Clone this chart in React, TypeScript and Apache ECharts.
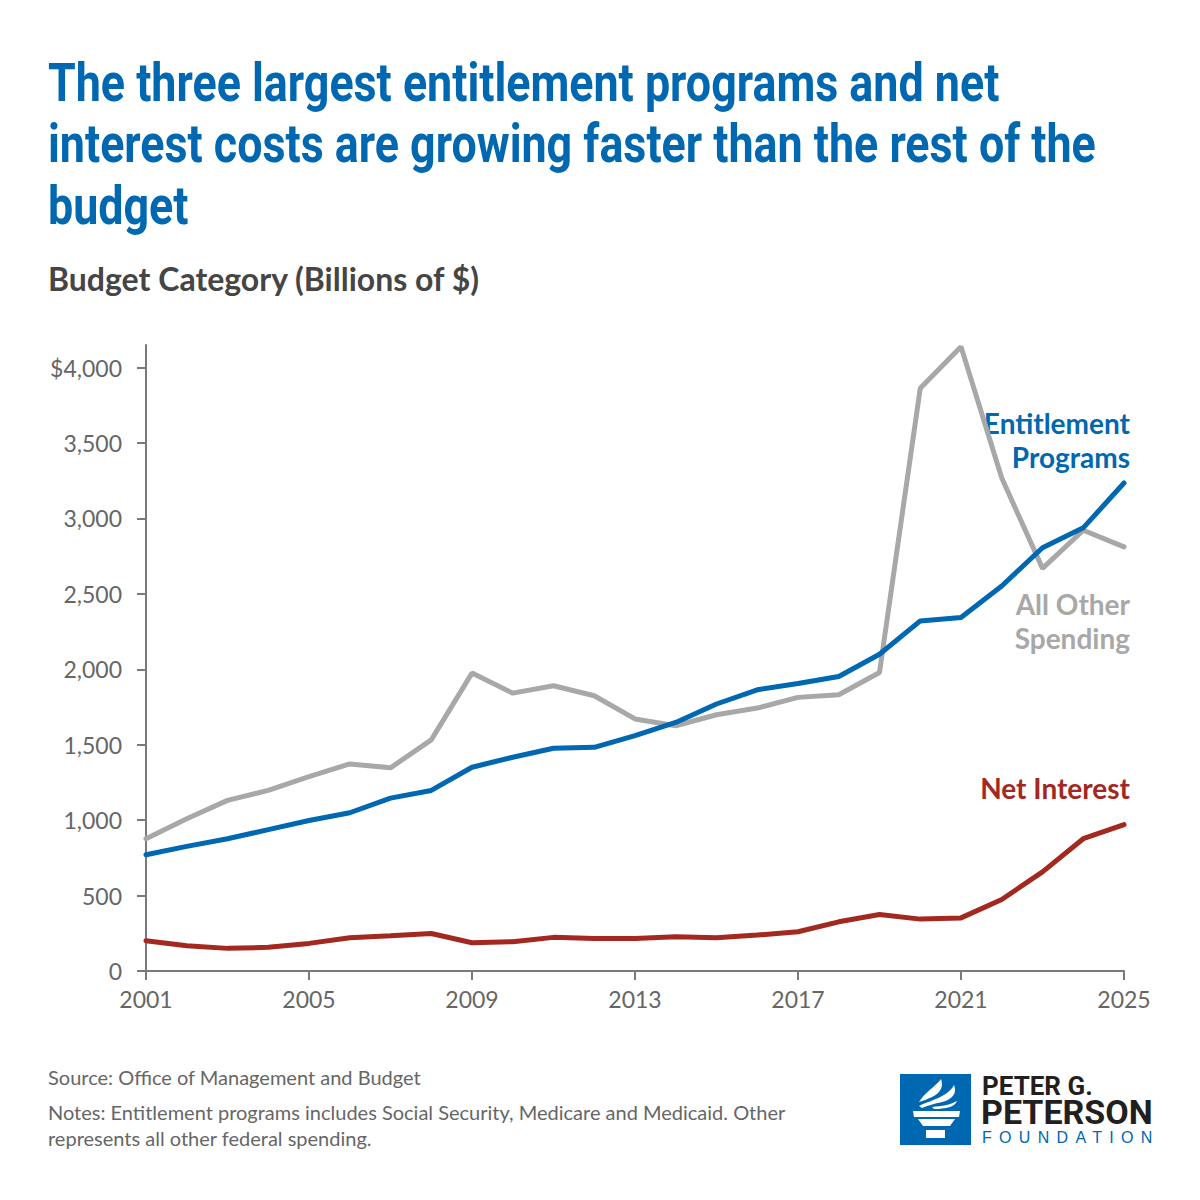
import { useEffect, useRef } from 'react'
import * as echarts from 'echarts'

const years = [
  '2001', '2002', '2003', '2004', '2005', '2006', '2007', '2008', '2009',
  '2010', '2011', '2012', '2013', '2014', '2015', '2016', '2017', '2018',
  '2019', '2020', '2021', '2022', '2023', '2024', '2025'
]

// billions of dollars
const entitlementPrograms = [
  771, 826, 877, 937, 998, 1049, 1146, 1197, 1351, 1417, 1477, 1483, 1560,
  1648, 1770, 1864, 1906, 1952, 2100, 2321, 2343, 2552, 2806, 2938, 3235
]
const allOtherSpending = [
  877, 1009, 1131, 1197, 1289, 1373, 1347, 1532, 1975, 1842, 1891, 1825, 1671,
  1626, 1699, 1743, 1814, 1831, 1979, 3863, 4139, 3268, 2669, 2922, 2812
]
const netInterest = [
  201, 168, 150, 157, 183, 220, 234, 249, 187, 194, 223, 216, 216, 227, 220,
  238, 260, 326, 375, 344, 352, 474, 657, 877, 970
]

const yTicks = [0, 500, 1000, 1500, 2000, 2500, 3000, 3500, 4000]

const titleLines = [
  'The three largest entitlement programs and net',
  'interest costs are growing faster than the rest of the',
  'budget'
]

const BLUE = '#0067b1'
const GRAY = '#a8a8a8'
const RED = '#a3281f'
const AXIS = '#7a7a7a'
const NOTE = '#666666'

// torch of the foundation's logo, in the 71px square's own coordinates
const torchPath =
  'M19 28 C25 18 35 13 41 5 C44 13 40 19 32 23 C27 25 23 27 19 28 Z ' +
  'M31 27 C41 23 50 19 54 11 C58 21 50 27 38 29 Z ' +
  'M19 32 C28 27 40 25 50 23 C44 28 32 30 22 34 Z ' +
  'M32 33 C42 32 50 31 57 27 C55 33 46 35 34 35 Z ' +
  'M13 37 L60 37 L59 43 L14 43 Z ' +
  'M18 45 L55 45 L50 52 L23 52 Z ' +
  'M26 56 L45 56 L45 64 L26 64 Z'

echarts.graphic.registerShape('torch', echarts.graphic.extendPath(torchPath, {}))

// a text placed by the middle of its capitals
const label = (
  text: string,
  x: number,
  y: number,
  size: number,
  fill: string,
  extra: Record<string, unknown> = {}
) => ({
  type: 'text',
  x,
  y,
  style: {
    text,
    fill,
    fontFamily: 'Lato',
    fontSize: size,
    verticalAlign: 'middle',
    ...extra
  }
})

export default function App() {
  const chartRef = useRef<HTMLDivElement | null>(null)

  useEffect(() => {
    document.body.style.margin = '0'
    if (!chartRef.current) return
    const chart = echarts.init(chartRef.current, null, { renderer: 'svg' })

    const titleY = [82.5, 144, 205.5]

    const option = {
      animation: false,
      backgroundColor: '#ffffff',
      grid: { left: 146, right: 76, top: 345, bottom: 229, containLabel: false },
      xAxis: {
        type: 'category',
        data: years,
        boundaryGap: false,
        axisLine: { lineStyle: { color: AXIS, width: 2 } },
        axisTick: { show: true, interval: 3, length: 9, lineStyle: { color: AXIS, width: 2 } },
        axisLabel: {
          interval: 3,
          margin: 16,
          color: NOTE,
          fontFamily: 'Lato',
          fontSize: 23
        },
        splitLine: { show: false }
      },
      yAxis: {
        type: 'value',
        min: 0,
        max: 4150,
        interval: 500,
        axisLine: { show: true, lineStyle: { color: AXIS, width: 2 } },
        axisTick: { show: true, length: 9, customValues: yTicks, lineStyle: { color: AXIS, width: 2 } },
        axisLabel: {
          customValues: yTicks,
          margin: 24,
          color: NOTE,
          fontFamily: 'Lato',
          fontSize: 23,
          formatter: (v: number) =>
            v === 4000 ? '$4,000' : v.toLocaleString('en-US')
        },
        splitLine: { show: false }
      },
      series: [
        {
          name: 'All Other Spending',
          type: 'line',
          data: allOtherSpending,
          symbol: 'none',
          lineStyle: { color: GRAY, width: 5, cap: 'round' },
          z: 2
        },
        {
          name: 'Entitlement Programs',
          type: 'line',
          data: entitlementPrograms,
          symbol: 'none',
          lineStyle: { color: BLUE, width: 5, cap: 'round' },
          z: 3
        },
        {
          name: 'Net Interest',
          type: 'line',
          data: netInterest,
          symbol: 'none',
          lineStyle: { color: RED, width: 5, cap: 'round' },
          z: 4
        }
      ],
      graphic: [
        ...titleLines.map((line, i) => ({
          type: 'text',
          x: 48,
          y: titleY[i],
          scaleX: 0.83,
          style: {
            text: line,
            fill: BLUE,
            fontFamily: 'Roboto',
            fontWeight: 'bold',
            fontSize: 54,
            verticalAlign: 'middle'
          }
        })),
        label('Budget Category (Billions of $)', 48, 278, 32, '#454545', { fontWeight: 'bold' }),
        label('Entitlement', 1130, 422.5, 28, BLUE, { fontWeight: 'bold', align: 'right' }),
        label('Programs', 1130, 457, 28, BLUE, { fontWeight: 'bold', align: 'right' }),
        label('All Other', 1130, 604, 28, GRAY, { fontWeight: 'bold', align: 'right' }),
        label('Spending', 1130, 637.5, 28, GRAY, { fontWeight: 'bold', align: 'right' }),
        label('Net Interest', 1130, 788, 28, RED, { fontWeight: 'bold', align: 'right' }),
        label('Source: Office of Management and Budget', 48, 1077, 20, NOTE),
        label(
          'Notes: Entitlement programs includes Social Security, Medicare and Medicaid. Other',
          48,
          1112,
          20,
          NOTE
        ),
        label('represents all other federal spending.', 48, 1138, 20, NOTE),
        {
          type: 'rect',
          shape: { x: 900, y: 1074, width: 71, height: 71 },
          style: { fill: BLUE }
        },
        {
          type: 'torch',
          x: 900,
          y: 1074,
          style: { fill: '#ffffff' }
        },
        label('PETER G.', 982, 1086, 26, '#231f20', {
          fontFamily: 'Roboto',
          fontWeight: 'bold',
          lineHeight: 20
        }),
        label('PETERSON', 981, 1112, 34, '#231f20', {
          fontFamily: 'Roboto',
          fontWeight: 'bold',
          lineHeight: 26
        })
      ]
    }

    chart.setOption(option)
    return () => chart.dispose()
  }, [])

  return (
    <div style={{ position: 'relative', width: 1200, height: 1200 }}>
      <div ref={chartRef} style={{ width: 1200, height: 1200 }} />
      <div
        style={{
          position: 'absolute',
          left: 982,
          top: 1130,
          fontFamily: '"Liberation Sans", Arial, sans-serif',
          fontSize: 16,
          lineHeight: '16px',
          letterSpacing: '7.3px',
          color: BLUE
        }}
      >
        FOUNDATION
      </div>
    </div>
  )
}
